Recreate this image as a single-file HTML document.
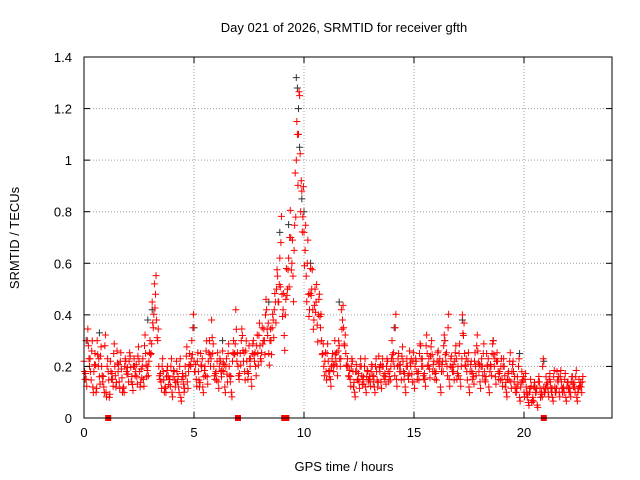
<!DOCTYPE html>
<html><head><meta charset="utf-8"><style>
body{margin:0;background:#fff}
svg{display:block;font-family:"Liberation Sans",sans-serif;font-size:13px}
</style></head><body>
<svg id="chart" width="640" height="480" viewBox="0 0 640 480">
<rect width="640" height="480" fill="#fff"/>
<text x="344" y="32" text-anchor="middle">Day 021 of 2026, SRMTID for receiver gfth</text>
<text x="344" y="471" text-anchor="middle">GPS time / hours</text>
<text transform="translate(19,238) rotate(-90)" text-anchor="middle">SRMTID / TECUs</text>
<g id="grid"></g><g id="marks"></g><g id="axes"></g>
</svg>
<script>
const xTicks=[0,5,10,15,20];
const yTicks=[0,0.2,0.4,0.6,0.8,1,1.2,1.4];
const yTickLabels=["0","0.2","0.4","0.6","0.8","1","1.2","1.4"];
const redA=[0.22,0.15,0.28,0.18,0.12,0.25,0.3,0.16,0.2,0.12,
0.1,0.18,0.22,0.15,0.2,0.26,0.14,0.19,0.12,0.22,
0.17,0.24,0.13,0.2,0.16,0.22,0.19,0.15,0.25,0.2,
0.3,0.45,0.52,0.38,0.2,0.14,0.18,0.12,0.2,0.15,
0.1,0.18,0.22,0.12,0.08,0.16,0.2,0.14,0.25,0.3,
0.22,0.15,0.18,0.25,0.12,0.2,0.16,0.3,0.38,0.2,
0.18,0.14,0.22,0.26,0.12,0.17,0.2,0.1,0.3,0.42,
0.2,0.25,0.32,0.18,0.22,0.28,0.15,0.3,0.2,0.25,
0.28,0.35,0.3,0.42,0.25,0.3,0.38,0.45,0.55,0.62,
0.48,0.32,0.58,0.62,0.7,0.55,0.95,1.1,1.25,0.88,
0.72,0.55,0.48,0.58,0.42,0.5,0.36,0.48,0.3,0.2,
0.18,0.22,0.15,0.25,0.3,0.2,0.28,0.42,0.35,0.25,
0.2,0.15,0.22,0.1,0.18,0.14,0.2,0.16,0.12,0.18,
0.15,0.2,0.12,0.18,0.24,0.14,0.2,0.16,0.22,0.18,
0.3,0.2,0.15,0.25,0.18,0.22,0.12,0.2,0.26,0.17,
0.14,0.22,0.18,0.28,0.2,0.15,0.25,0.19,0.3,0.22,
0.18,0.26,0.12,0.22,0.3,0.2,0.15,0.24,0.18,0.28,
0.2,0.15,0.4,0.25,0.18,0.12,0.22,0.16,0.2,0.26,
0.14,0.2,0.18,0.25,0.12,0.2,0.3,0.16,0.22,0.18,
0.15,0.2,0.1,0.18,0.14,0.22,0.12,0.16,0.08,0.18,
0.1,0.12,0.06,0.15,0.08,0.12,0.05,0.14,0.1,0.12,
0.16,0.1,0.14,0.08,0.12,0.18,0.1,0.14,0.12,0.08,
0.14,0.1,0.16,0.12,0.08,0.15,0.12];
const redB=[0.15,0.3,0.2,0.26,0.18,0.1,0.2,0.24,0.14,0.28,
0.2,0.08,0.15,0.25,0.12,0.18,0.22,0.1,0.2,0.17,
0.22,0.14,0.2,0.18,0.24,0.12,0.2,0.28,0.16,0.22,
0.25,0.35,0.48,0.3,0.15,0.2,0.1,0.16,0.13,0.2,
0.16,0.12,0.14,0.2,0.15,0.1,0.24,0.18,0.2,0.35,
0.18,0.22,0.12,0.2,0.16,0.26,0.22,0.2,0.25,0.15,
0.22,0.2,0.16,0.18,0.2,0.25,0.14,0.22,0.25,0.22,
0.15,0.3,0.22,0.26,0.15,0.2,0.25,0.22,0.28,0.32,
0.22,0.3,0.4,0.32,0.3,0.35,0.42,0.5,0.45,0.68,
0.42,0.4,0.5,0.7,0.6,0.65,1.0,1.1,0.8,0.78,
0.65,0.6,0.42,0.5,0.38,0.45,0.4,0.35,0.25,0.22,
0.25,0.16,0.2,0.18,0.22,0.26,0.2,0.38,0.28,0.2,
0.16,0.2,0.12,0.18,0.15,0.2,0.13,0.2,0.16,0.14,
0.18,0.14,0.2,0.12,0.18,0.2,0.15,0.2,0.14,0.2,
0.22,0.35,0.2,0.18,0.24,0.15,0.2,0.15,0.2,0.22,
0.2,0.15,0.25,0.2,0.15,0.28,0.2,0.24,0.18,0.15,
0.22,0.2,0.18,0.28,0.22,0.35,0.2,0.18,0.22,0.15,
0.25,0.2,0.32,0.2,0.22,0.18,0.15,0.22,0.28,0.18,
0.2,0.25,0.14,0.2,0.18,0.25,0.2,0.22,0.15,0.2,
0.2,0.12,0.15,0.22,0.18,0.14,0.1,0.2,0.12,0.14,
0.15,0.08,0.1,0.06,0.12,0.1,0.14,0.08,0.2,0.1,
0.12,0.15,0.1,0.16,0.1,0.14,0.16,0.1,0.15,0.12,
0.1,0.14,0.12,0.16,0.1,0.12,0.14];
const blackT=[0.1,0.7,2.9,3.1,5.0,6.3,8.4,8.9,9.3,9.65,9.7,9.75,9.8,9.9,10.0,10.3,11.6,14.1,16.4,17.2,18.6,19.8,20.9];
const blackV=[0.3,0.33,0.38,0.42,0.35,0.3,0.45,0.72,0.75,1.32,1.28,1.2,1.05,0.85,0.8,0.6,0.45,0.35,0.3,0.38,0.3,0.25,0.22];
const gapT=[1.1,7.0,9.1,9.2,20.9];
const L=84,R=612,T=57,B=418,XMAX=24,YMAX=1.4;
const xs=v=>L+v/XMAX*(R-L), ys=v=>B-v/YMAX*(B-T);
const NS="http://www.w3.org/2000/svg";
function mk(tag,attrs,parent){const e=document.createElementNS(NS,tag);for(const k in attrs)e.setAttribute(k,attrs[k]);parent.appendChild(e);return e;}
const grid=document.getElementById('grid'),marks=document.getElementById('marks'),axes=document.getElementById('axes');
xTicks.forEach(t=>{const x=xs(t);
 if(t>0){const g=mk('line',{x1:x,y1:T,x2:x,y2:B,stroke:'#a0a0a0','stroke-dasharray':'1,2'},grid);
 
 }
 mk('line',{x1:x,y1:B,x2:x,y2:B-6,stroke:'#000'},axes);mk('line',{x1:x,y1:T,x2:x,y2:T+6,stroke:'#000'},axes);
 const tx=mk('text',{x:x,y:B+19,'text-anchor':'middle'},axes);tx.textContent=t;
 
 });
yTicks.forEach((t,i)=>{const y=ys(t);
 if(t>0&&t<YMAX){const g=mk('line',{x1:L,y1:y,x2:R,y2:y,stroke:'#a0a0a0','stroke-dasharray':'1,2'},grid);
 
 }
 mk('line',{x1:L,y1:y,x2:L+6,y2:y,stroke:'#000'},axes);mk('line',{x1:R,y1:y,x2:R-6,y2:y,stroke:'#000'},axes);
 const tx=mk('text',{x:72,y:y+5,'text-anchor':'end'},axes);tx.textContent=yTickLabels[i];
 
 });
const frame=mk('rect',{x:L,y:T,width:R-L,height:B-T,fill:'none',stroke:'#000'},axes);


function plus(t,v,col,name){const x=xs(t),y=ys(v);
 const p=mk('path',{d:`M${x-3.5},${y}h7M${x},${y-3.5}v7`,stroke:col,'stroke-width':1,fill:'none'},marks);
 
 }
blackT.forEach((t,i)=>plus(t,blackV[i],'#333','black-point'));
redA.forEach((v,i)=>{const t=i*0.1;plus(t,v,'#f00','red-point');plus(t+0.025,v*0.82,'#f00','red-point');});
redB.forEach((v,i)=>{const t=i*0.1+0.05;plus(t,v,'#f00','red-point');plus(t+0.025,v*1.15,'#f00','red-point');});
gapT.forEach(t=>{const r=mk('rect',{x:xs(t)-3,y:B-3,width:6,height:6,fill:'#f00'},marks);
 
 });
</script>
</body></html>
